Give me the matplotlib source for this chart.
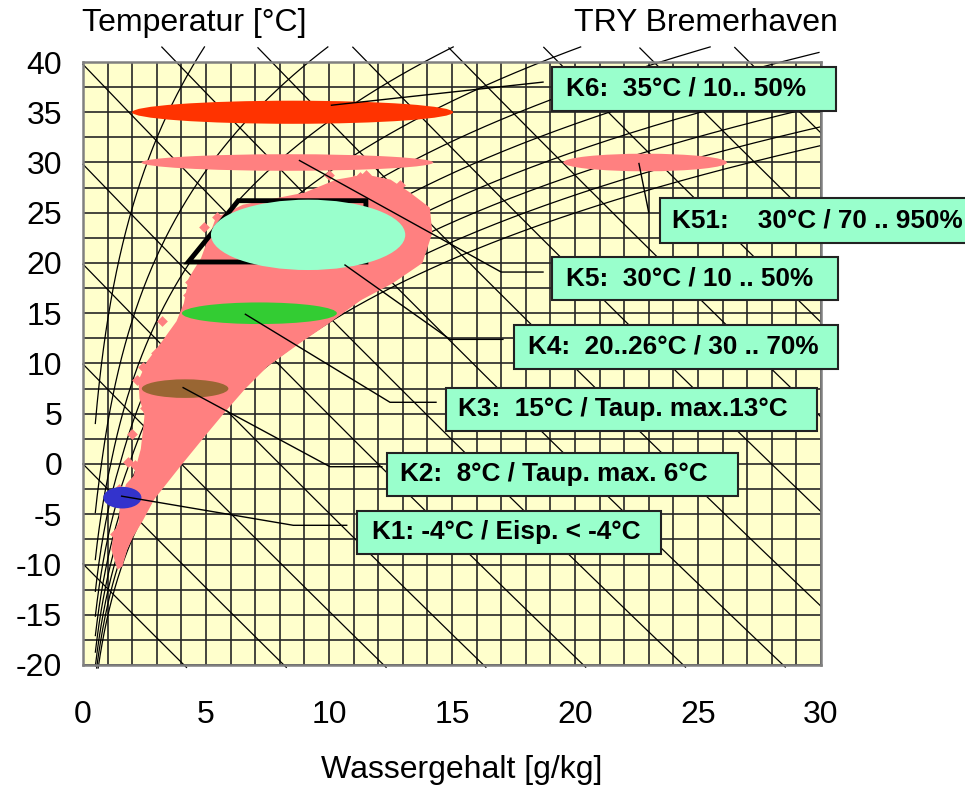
import numpy as np
import matplotlib
matplotlib.use("Agg")
import matplotlib.pyplot as plt
from matplotlib.patches import Ellipse, Polygon, Rectangle

plt.rcParams['font.family'] = ['Liberation Sans', 'DejaVu Sans']
plt.rcParams['axes.unicode_minus'] = False

# ---------------- Data ---------------- #
x_ticks = [0, 5, 10, 15, 20, 25, 30]
t_ticks = [-20, -15, -10, -5, 0, 5, 10, 15, 20, 25, 30, 35, 40]

# chart construction lines: relative humidity [-] and enthalpy [kJ/kg]
rh_levels = [0.1, 0.2, 0.3, 0.4, 0.5, 0.6, 0.7, 0.8, 0.9, 1.0]
h_levels = [-10, 0, 10, 20, 30, 40, 50, 60, 70, 80, 90, 100, 110]

# outline of the dense TRY Bremerhaven cloud (x g/kg, T degC)
cloud_x = [1.40, 1.15, 1.25, 1.45, 1.50, 1.75, 2.05, 2.35, 2.50, 2.30, 2.25, 2.60, 3.30, 3.80,
           4.10, 4.30, 4.80, 5.40, 6.50, 9.00, 10.3, 11.5, 12.5, 13.3, 14.1, 14.2, 13.8,
           12.6, 11.3, 10.0, 8.80, 7.50, 6.60, 5.85, 5.10, 4.50, 4.00, 2.90, 2.44, 2.03, 1.80, 1.60]
cloud_t = [-10.5, -8.5, -6.8, -5.8, -4.0, -2.0, -1.2, 1.5, 4.8, 6.5, 8.3, 10.2, 12.5, 14.2,
           16.0, 18.5, 20.5, 24.5, 25.8, 27.0, 28.3, 28.8, 28.3, 27.0, 25.5, 23.0, 20.0,
           18.0, 16.3, 14.0, 12.0, 9.7, 7.5, 5.4, 3.2, 1.4, -0.1, -3.5, -5.6, -7.3, -8.5, -10.2]

# single hours scattered outside the dense cloud
dots_x = [5.43, 4.35, 4.28, 5.09, 5.50, 3.74, 3.60, 2.45, 4.20, 2.86, 2.18, 2.52, 2.11, 1.84,
          2.59, 11.26, 11.5, 12.89, 12.35, 13.0, 13.8, 13.97, 13.6, 10.3, 11.0, 10.0, 4.90,
          3.20, 2.95, 2.00, 1.45, 1.30]
dots_t = [24.6, 18.1, 16.8, 17.6, 18.3, 12.7, 11.7, 9.7, 13.7, 9.35, 8.4, 5.6, -0.1, 0.2,
          1.7, 28.6, 28.8, 27.8, 27.3, 26.6, 24.3, 23.0, 23.1, 27.6, 28.3, 28.8, 23.6,
          14.2, 11.0, 3.0, -2.5, -7.0]

# comfort field
comfort_x = [4.28, 6.31, 11.5, 11.5]
comfort_t = [20.1, 26.2, 26.2, 20.1]

# test conditions K1..K6 as ellipses
zone_names = ["K6", "K5", "K51", "K4", "K3", "K2", "K1"]
zone_x = [8.52, 8.31, 22.85, 9.15, 7.17, 4.15, 1.60]
zone_t = [35.0, 30.0, 30.0, 22.8, 15.0, 7.5, -3.35]
zone_dx = [13.05, 11.86, 6.65, 7.9, 6.3, 3.52, 1.55]
zone_dt = [2.3, 1.65, 1.75, 7.0, 2.15, 1.85, 2.15]
zone_colors = ["#FF3300", "#FF8080", "#FF8080", "#99FFCC", "#33CC33", "#996633", "#3333CC"]
zone_labels = ["K6:  35°C / 10.. 50%",
               "K5:  30°C / 10 .. 50%",
               "K51:    30°C / 70 .. 950%",
               "K4:  20..26°C / 30 .. 70%",
               "K3:  15°C / Taup. max.13°C",
               "K2:  8°C / Taup. max. 6°C",
               "K1: -4°C / Eisp. < -4°C"]

# leader lines (x, T)
leader_x = [[10.1, 18.7], [8.8, 17.0, 18.7], [22.6, 23.0], [10.65, 14.92, 17.07],
            [6.6, 12.48, 14.35], [4.07, 10.04, 12.15], [1.57, 8.55, 10.72]]
leader_t = [[35.7, 38.0], [30.2, 19.1, 19.1], [29.9, 25.0], [19.8, 12.4, 12.4],
            [14.9, 6.14, 6.14], [7.6, -0.27, -0.27], [-3.2, -6.1, -6.1]]


# ---------------- Psychrometrics ---------------- #
def p_sat(t):
    t = np.asarray(t, dtype=float)
    water = 611.2 * np.exp(17.62 * t / (243.12 + t))
    ice = 611.2 * np.exp(22.46 * t / (272.62 + t))
    return np.where(t >= 0, water, ice)


def x_of(t, phi, p=101325.0):
    pv = phi * p_sat(t)
    return 622.0 * pv / (p - pv)


# ---------------- Plot ---------------- #
W, H = 965, 787
fig = plt.figure(figsize=(W / 100, H / 100), dpi=100)
ax = fig.add_axes([83 / W, 1 - 665 / H, (821 - 83) / W, (665 - 62) / H])
ax.set_facecolor("#FFFFCC")
ax.set_xlim(0, 30)
ax.set_ylim(-20, 40)

for gx in np.arange(0, 31, 1):
    ax.axvline(gx, color="#262626", lw=1.2, zorder=1)
for gt in np.arange(-20, 40.1, 2.5):
    ax.axhline(gt, color="#262626", lw=1.2, zorder=1)

# the construction lines poke a little out of the plot box, like in Excel
t_top, t_bot = 41.5, -20.3
tt = np.linspace(t_bot, t_top, 900)
for phi in rh_levels:
    xx = x_of(tt, phi)
    keep = (xx >= 0.5) & (xx <= 30)
    ax.plot(xx[keep], tt[keep], color="black", lw=0.9, zorder=2, clip_on=False)

xs = np.linspace(0, 30, 600)
for h in h_levels:
    th = (h - 2.501 * xs) / (1.006 + 0.00186 * xs)
    keep = (th <= t_top) & (th >= t_bot)
    ax.plot(xs[keep], th[keep], color="black", lw=0.9, zorder=2, clip_on=False)

ax.add_patch(Polygon(list(zip(cloud_x, cloud_t)), closed=True, facecolor="#FF8080",
                     edgecolor="none", zorder=3))
ax.scatter(dots_x, dots_t, marker="D", s=30, color="#FF8080", linewidths=0, zorder=3)

ax.add_patch(Polygon(list(zip(comfort_x, comfort_t)), closed=True, fill=False,
                     edgecolor="black", lw=3.5, joinstyle="miter", zorder=4))

for cx, ct, w, hgt, col in zip(zone_x, zone_t, zone_dx, zone_dt, zone_colors):
    ax.add_patch(Ellipse((cx, ct), w, hgt, facecolor=col, edgecolor="none", zorder=5))

for lx, lt in zip(leader_x, leader_t):
    ax.plot(lx, lt, color="black", lw=1.0, zorder=6, clip_on=False)

ax.set_xticks(x_ticks)
ax.set_yticks(t_ticks)
ax.tick_params(axis="both", length=0, labelsize=23)
ax.tick_params(axis="x", pad=25)
ax.tick_params(axis="y", pad=15)
for s in ax.spines.values():
    s.set_color("#808080")
    s.set_linewidth(1.8)
    s.set_zorder(7)

fig.text(194 / W, 1 - 23 / H, "Temperatur [°C]", ha="center", va="center", fontsize=23)
fig.text(706 / W, 1 - 23 / H, "TRY Bremerhaven", ha="center", va="center", fontsize=23)
fig.text(462 / W, 1 - 770 / H, "Wassergehalt [g/kg]", ha="center", va="center", fontsize=23)

# label boxes in pixel coordinates: left, top, right, bottom, text start
boxes = [(552, 67, 836, 111, 566), (552, 257, 838, 300, 566), (660, 198, 975, 243, 672),
         (514, 325, 838, 369, 528), (446, 388, 817, 431, 458), (387, 453, 738, 496, 400),
         (357, 511, 661, 554, 372)]
for (x0, y0, x1, y1, tx), label in zip(boxes, zone_labels):
    fig.add_artist(Rectangle((x0 / W, 1 - y1 / H), (x1 - x0) / W, (y1 - y0) / H,
                             transform=fig.transFigure, facecolor="#99FFCC",
                             edgecolor="#222222", lw=1.5, zorder=8))
    fig.text(tx / W, 1 - (y0 + y1) / 2 / H, label, ha="left", va="center",
             fontsize=18.8, fontweight="bold", zorder=9)

fig.savefig("out.png", dpi=100)
